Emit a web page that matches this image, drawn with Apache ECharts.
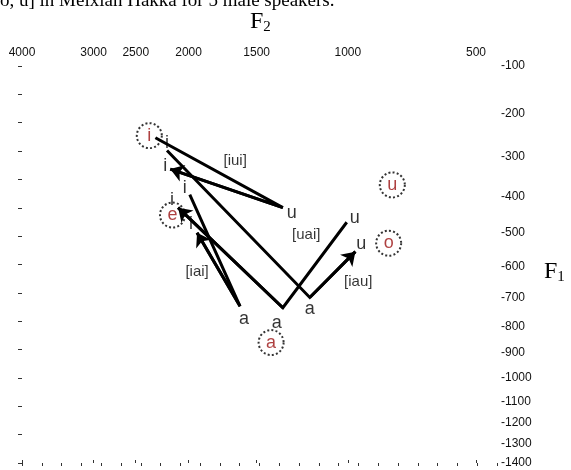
<!DOCTYPE html>
<html><head><meta charset="utf-8">
<script src="https://cdn.jsdelivr.net/npm/echarts@6/dist/echarts.min.js"></script>
<style>html,body{margin:0;padding:0;background:#fff}#c{width:571px;height:470px}</style>
</head><body><div id="c"></div>
<script>
// ---- data (Hz) ----
const f2TickLabels = [4000, 3000, 2500, 2000, 1500, 1000, 500];
const f1TickLabels = [100, 200, 300, 400, 500, 600, 700, 800, 900, 1000, 1100, 1200, 1300, 1400];

const refVowels = ['i', 'e', 'a', 'u', 'o'];
const refF1 = [250, 450, 860, 370, 530];
const refF2 = [2360, 2140, 1410, 805, 820];

const pathNames = ['[iui]', '[iau]', '[uai]', '[iai]'];
const iuiF1 = [255, 430, 330];   const iuiF2 = [2300, 1340, 2160];  const iuiText = ['', 'u', 'i'];
const iauF1 = [285, 700, 555];   const iauF2 = [2190, 1190, 965];   const iauText = ['i', 'a', 'u'];
const uaiF1 = [470, 735, 430];   const uaiF2 = [1005, 1340, 2090];  const uaiText = ['u', 'a', 'i'];
const iaiF1 = [395, 730, 500];   const iaiF2 = [1990, 1610, 1930];  const iaiText = ['i', 'a', 'i'];

const tagF1 = [310, 649, 506, 617];
const tagF2 = [1644, 952, 1209, 1930];

// ---- styling ----
const labelOffsets = [
  [null, [9, 5], [-5, -3]],
  [[0, -8], [0, 12], [6, -8]],
  [[8, -4], [-6, 15], [-6, -8]],
  [[-5, -7], [4, 13], [-6, -9]]
];

function bark(f) { return 26.81 * f / (1960 + f) - 0.53; }
const xLeft = 17.70, xRight = 4.328;
const yTop = bark(100), yBottom = bark(1400);
const f2TickPos = f2TickLabels.map((f, i) => i === 0 ? xLeft : bark(f));
const f1TickPos = f1TickLabels.map(f => bark(f));

function nearestLabel(v, pos, labels, prefix) {
  let bi = 0, bd = Infinity;
  pos.forEach((p, i) => { const d = Math.abs(p - v); if (d < bd) { bd = d; bi = i; } });
  return prefix + labels[bi];
}

const paths = [
  [iuiF1, iuiF2, iuiText],
  [iauF1, iauF2, iauText],
  [uaiF1, uaiF2, uaiText],
  [iaiF1, iaiF2, iaiText]
];

const series = [];
paths.forEach((p, k) => {
  const coords = p[0].map((f1, i) => [bark(p[1][i]), bark(f1)]);
  series.push({
    type: 'line', xAxisIndex: 0, yAxisIndex: 0, silent: true, z: 3,
    showSymbol: false, symbol: 'none', smooth: false,
    lineStyle: { color: '#000', width: 3, join: 'miter' },
    data: coords
  });
  const n = coords.length;
  series.push({
    type: 'lines', coordinateSystem: 'cartesian2d', xAxisIndex: 0, yAxisIndex: 0, silent: true, z: 3,
    symbol: ['none', 'arrow'], symbolSize: 13,
    lineStyle: { color: '#000', width: 3, opacity: 1 },
    data: [{ coords: [coords[n - 2], coords[n - 1]] }]
  });
  series.push({
    type: 'scatter', xAxisIndex: 0, yAxisIndex: 0, symbolSize: 0, silent: true, z: 4,
    data: p[0].map((f1, i) => ({
      value: [bark(p[1][i]), bark(f1)],
      label: {
        show: p[2][i] !== '', formatter: p[2][i], position: 'inside',
        offset: labelOffsets[k][i] || [0, 0],
        fontFamily: 'Liberation Sans', fontSize: 18, color: '#000'
      }
    }))
  });
});

series.push({
  type: 'scatter', xAxisIndex: 0, yAxisIndex: 0, symbolSize: 0, silent: true, z: 4,
  data: pathNames.map((n, i) => ({
    value: [bark(tagF2[i]), bark(tagF1[i])],
    label: { show: true, formatter: n, position: 'inside', fontFamily: 'Liberation Sans', fontSize: 15, color: '#000' }
  }))
});

series.push({
  type: 'scatter', xAxisIndex: 0, yAxisIndex: 0, symbol: 'circle', symbolSize: 25, silent: true, z: 5,
  itemStyle: { color: 'rgba(255,255,255,0)', borderColor: '#000', borderWidth: 2, borderType: [2, 2.2] },
  label: { show: true, position: 'inside', formatter: p => refVowels[p.dataIndex], fontFamily: 'Liberation Sans', fontSize: 18, color: '#9a1010' },
  data: refVowels.map((v, i) => [bark(refF2[i]), bark(refF1[i])])
});

const chart = echarts.init(document.getElementById('c'), null, { renderer: 'canvas' });
chart.setOption({
  animation: false,
  backgroundColor: '#fff',
  grid: { left: 22, top: 66, width: 475, height: 397 },
  graphic: [
    { type: 'text', left: 0, top: -8, style: { text: 'o, u] in Meixian Hakka for 5 male speakers.', font: '19px "Liberation Serif"', fill: '#000' } },
    { type: 'text', left: 250, top: 10, style: { text: '{a|F}{b|2}', rich: { a: { fontFamily: 'Liberation Serif', fontSize: 24, color: '#000' }, b: { fontFamily: 'Liberation Serif', fontSize: 15, color: '#000', verticalAlign: 'bottom', padding: [10, 0, 0, 0] } } } },
    { type: 'text', left: 544, top: 260, style: { text: '{a|F}{b|1}', rich: { a: { fontFamily: 'Liberation Serif', fontSize: 24, color: '#000' }, b: { fontFamily: 'Liberation Serif', fontSize: 15, color: '#000', verticalAlign: 'bottom', padding: [10, 0, 0, 0] } } } }
  ],
  xAxis: [
    {
      type: 'value', position: 'top', inverse: true, min: xRight, max: xLeft,
      axisLine: { show: false }, splitLine: { show: false },
      axisTick: { show: true, customValues: f2TickPos, length: 3, lineStyle: { color: '#333' } },
      axisLabel: { show: true, customValues: f2TickPos, margin: 7, fontFamily: 'Liberation Sans', fontSize: 12, color: '#111',
        formatter: v => nearestLabel(v, f2TickPos, f2TickLabels, '') }
    },
    {
      type: 'value', position: 'bottom', min: 0, max: 24, interval: 1,
      axisLine: { show: false }, splitLine: { show: false },
      axisTick: { show: true, length: 3, lineStyle: { color: '#333' } },
      axisLabel: { show: false }
    }
  ],
  yAxis: [
    {
      type: 'value', position: 'right', inverse: true, min: yTop, max: yBottom,
      axisLine: { show: false }, splitLine: { show: false },
      axisTick: { show: false },
      axisLabel: { show: true, customValues: f1TickPos, margin: 4, fontFamily: 'Liberation Sans', fontSize: 12, color: '#111',
        formatter: v => nearestLabel(v, f1TickPos, f1TickLabels, '-') }
    },
    {
      type: 'value', position: 'left', min: 0, max: 14, interval: 1,
      axisLine: { show: false }, splitLine: { show: false },
      axisTick: { show: true, length: 4, lineStyle: { color: '#333' } },
      axisLabel: { show: false }
    }
  ],
  series: series
});
</script></body></html>
